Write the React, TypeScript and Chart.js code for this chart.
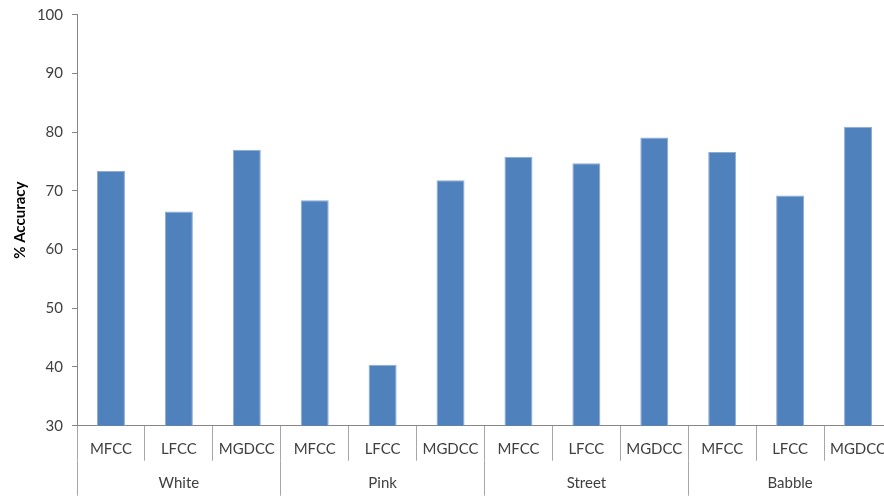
import React, { useEffect, useRef } from 'react';
import { Chart, registerables } from 'chart.js';

Chart.register(...registerables);

const groups = ['White', 'Pink', 'Street', 'Babble'];
const features = ['MFCC', 'LFCC', 'MGDCC'];
const whiteValues = [73.4, 66.5, 77.0];
const pinkValues = [68.4, 40.4, 71.8];
const streetValues = [75.8, 74.7, 79.1];
const babbleValues = [76.6, 69.2, 80.9];
const yMin = 30;
const yMax = 100;
const yStep = 10;
const yTitle = '% Accuracy';

const groupValues = [whiteValues, pinkValues, streetValues, babbleValues];

export default function App() {
  const ref = useRef<HTMLCanvasElement | null>(null);

  useEffect(() => {
    if (!ref.current) return;
    const labels: string[] = [];
    const values: number[] = [];
    groups.forEach((g, gi) => {
      features.forEach((f, fi) => {
        labels.push(f);
        values.push(groupValues[gi][fi]);
      });
    });

    const axisColor = '#868686';
    const sepColor = '#A6A6A6';
    const textColor = '#404040';

    const chart = new Chart(ref.current, {
      type: 'bar',
      data: {
        labels,
        datasets: [
          {
            data: values,
            backgroundColor: '#4F81BD',
            borderColor: '#8DABD3',
            borderWidth: { top: 1, left: 1, right: 1, bottom: 0 },
            categoryPercentage: 1,
            barPercentage: 0.412,
            xAxisID: 'x',
            yAxisID: 'y',
          },
        ],
      },
      options: {
        animation: false,
        responsive: false,
        devicePixelRatio: 1,
        layout: { padding: { top: 14.7, right: 8, bottom: 0, left: 0 } },
        font: { family: 'Lato' },
        plugins: {
          legend: { display: false },
          tooltip: { enabled: false },
        },
        scales: {
          x: {
            type: 'category',
            position: 'bottom',
            offset: true,
            grid: {
              display: true,
              offset: true,
              drawOnChartArea: false,
              drawTicks: true,
              tickLength: 35,
              color: sepColor,
              tickColor: sepColor,
              lineWidth: 1,
            },
            border: { display: true, color: axisColor, width: 1 },
            ticks: {
              color: textColor,
              font: { family: 'Lato', size: 15 },
              padding: -21,
              maxRotation: 0,
              autoSkip: false,
            },
            afterFit: (scale: any) => {
              scale.height = 35;
            },
          },
          x2: {
            type: 'category',
            position: 'bottom',
            labels: groups,
            offset: true,
            grid: {
              display: true,
              offset: true,
              drawOnChartArea: false,
              drawTicks: true,
              tickLength: 35,
              color: sepColor,
              tickColor: sepColor,
              lineWidth: 1,
            },
            border: { display: false },
            ticks: {
              color: textColor,
              font: { family: 'Lato', size: 15 },
              padding: -21.7,
              maxRotation: 0,
              autoSkip: false,
            },
            afterFit: (scale: any) => {
              scale.height = 36.3;
            },
          },
          y: {
            type: 'linear',
            min: yMin,
            max: yMax,
            ticks: {
              stepSize: yStep,
              color: textColor,
              font: { family: 'Lato', size: 15 },
              padding: 9,
            },
            grid: {
              display: true,
              drawOnChartArea: false,
              drawTicks: true,
              tickLength: 5,
              tickColor: axisColor,
              color: axisColor,
            },
            border: { display: true, color: axisColor, width: 1 },
            title: {
              display: true,
              text: yTitle,
              color: '#000000',
              font: { family: 'Lato', size: 15, weight: 'bold' },
              padding: { top: 11, bottom: 0 },
            },
            afterFit: (scale: any) => {
              scale.width = 77;
              scale.paddingTop = 0;
              scale.paddingBottom = 0;
            },
          },
        },
      },
    } as any);

    return () => {
      chart.destroy();
    };
  }, []);

  return (
    <div
      style={{
        position: 'fixed',
        left: 0,
        top: 0,
        width: 884,
        height: 497,
        overflow: 'hidden',
        background: '#ffffff',
      }}
    >
      <canvas ref={ref} width={900} height={497} style={{ display: 'block', width: 900, height: 497 }} />
    </div>
  );
}
